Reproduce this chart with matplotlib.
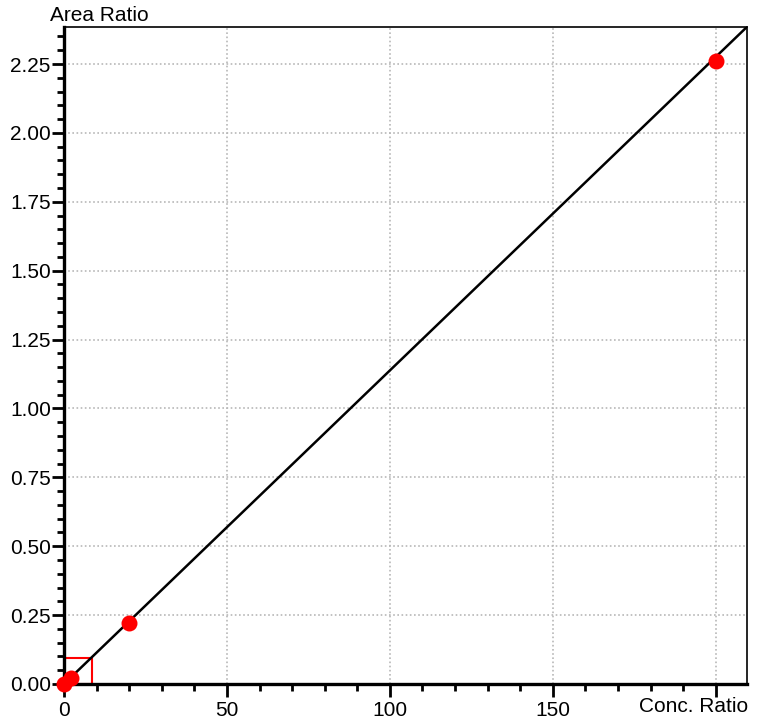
import numpy as np
import matplotlib.pyplot as plt
from matplotlib.ticker import MultipleLocator, FormatStrFormatter

plt.rcParams['font.family'] = ['Liberation Sans', 'DejaVu Sans']

# calibration points (conc. ratio vs area ratio)
conc = [0, 2, 20, 200]
area = [0.0, 0.022, 0.22, 2.26]

# fitted line through the origin
slope = 0.01138
line_x = np.array([0, 215])

# zoom box in the lower left corner
box_w = 8.6
box_h = 0.094

fig = plt.figure(figsize=(7.62, 7.25), dpi=100)
ax = fig.add_axes([0.084, 0.0566, 0.896, 0.906])

ax.plot(line_x, slope*line_x, 'k-', lw=1.8, zorder=3)
ax.plot(conc, area, 'o', color='#ff0000', ms=11.5, mec='none', clip_on=False, zorder=4)
ax.plot([0, box_w, box_w, 0], [box_h, box_h, 0, 0], '-', color='#ff0000', lw=1.5, zorder=2)

ax.set_xlim(0, 209.5)
ax.set_ylim(0, 2.384)

ax.xaxis.set_major_locator(MultipleLocator(50))
ax.xaxis.set_minor_locator(MultipleLocator(10))
ax.yaxis.set_major_locator(MultipleLocator(0.25))
ax.yaxis.set_minor_locator(MultipleLocator(0.05))
ax.yaxis.set_major_formatter(FormatStrFormatter('%.2f'))

ax.grid(True, which='major', color='#b8b8b8', ls=(0, (1, 1.5)), lw=1.2, zorder=0)

for s in ['left', 'bottom']:
    ax.spines[s].set_linewidth(2.4)
for s in ['top', 'right']:
    ax.spines[s].set_linewidth(1.2)

ax.tick_params(which='major', length=9, width=2, labelsize=15)
ax.tick_params(which='minor', length=5, width=2)
ax.tick_params(axis='x', which='major', pad=3.5)
ax.tick_params(axis='y', which='major', pad=0.5)

# hide the 200 tick label, replaced by the axis title
labels = ['0', '50', '100', '150', '']
ax.set_xticks([0, 50, 100, 150, 200])
ax.set_xticklabels(labels)

fig.text(0.0656, 0.979, 'Area Ratio', fontsize=15, va='center', ha='left')
fig.text(0.982, 0.025, 'Conc. Ratio', fontsize=15, va='center', ha='right')

fig.savefig('out.png', dpi=100)
